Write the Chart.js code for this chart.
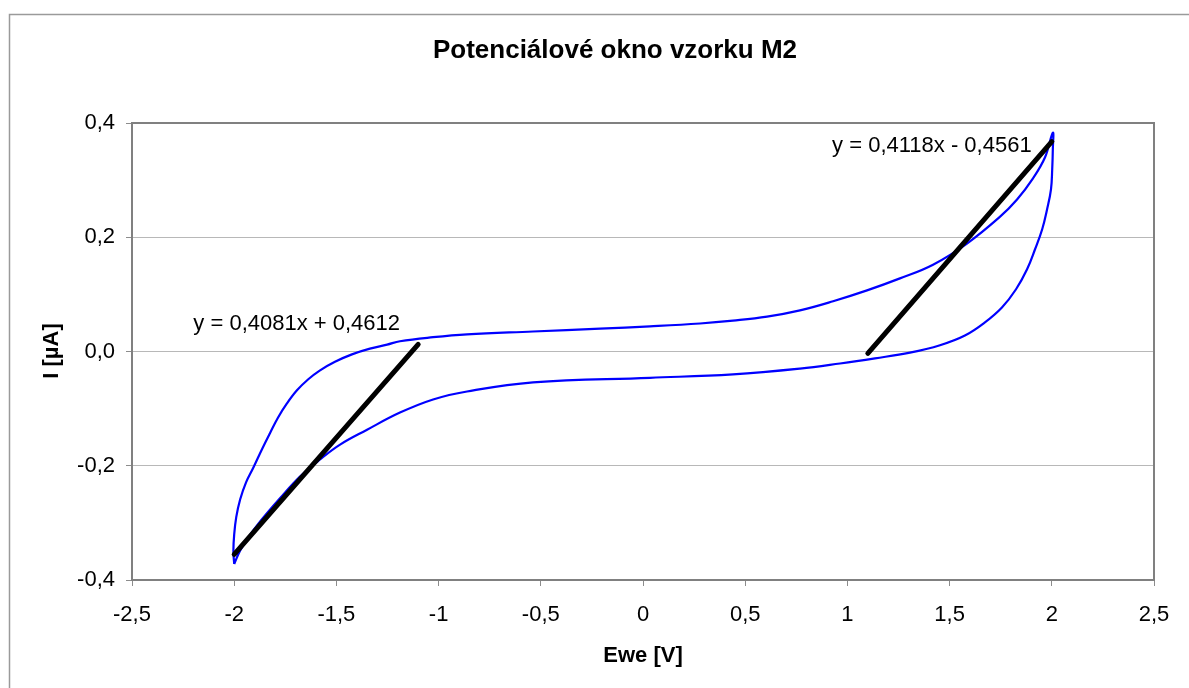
<!DOCTYPE html>
<html>
<head>
<meta charset="utf-8">
<script src="https://cdn.jsdelivr.net/npm/chart.js@4.4.1/dist/chart.umd.min.js"></script>
<style>
  html, body { margin: 0; padding: 0; background: #ffffff; }
  #wrap { width: 1189px; height: 688px; position: relative; }
</style>
</head>
<body>
<div id="wrap"><canvas id="c" width="1189" height="688"></canvas></div>
<script>
// ---- data ----
const chartTitle = "Potenciálové okno vzorku M2";
const xAxisTitle = "Ewe [V]";
const yAxisTitle = "I [µA]";

// forward scan (upper branch), from -2 V to +2 V
const upperX = [-2.000, -2.004, -2.000, -1.990, -1.971, -1.942, -1.906, -1.864, -1.825, -1.786, -1.742, -1.693, -1.639, -1.580, -1.507, -1.424, -1.336, -1.252, -1.189, -1.027, -0.861, -0.538, -0.210, 0.034, 0.279, 0.440, 0.607, 0.768, 0.930, 1.096, 1.257, 1.419, 1.585, 1.747, 1.830, 1.908, 1.967, 2.005];
const upperY = [-0.372, -0.349, -0.320, -0.290, -0.259, -0.229, -0.203, -0.171, -0.143, -0.116, -0.091, -0.068, -0.049, -0.033, -0.018, -0.005, 0.005, 0.012, 0.018, 0.025, 0.030, 0.035, 0.040, 0.044, 0.049, 0.054, 0.061, 0.072, 0.088, 0.107, 0.128, 0.152, 0.189, 0.236, 0.266, 0.303, 0.340, 0.383];

// reverse scan (lower branch), from +2 V back to -2 V
const lowerX = [2.005, 2.005, 2.002, 1.996, 1.977, 1.953, 1.918, 1.879, 1.825, 1.756, 1.673, 1.575, 1.453, 1.306, 1.135, 0.964, 0.768, 0.440, 0.034, -0.538, -0.861, -1.027, -1.189, -1.350, -1.482, -1.580, -1.678, -1.776, -1.874, -1.932, -1.972, -2.000];
const lowerY = [0.383, 0.354, 0.319, 0.284, 0.249, 0.214, 0.179, 0.144, 0.109, 0.077, 0.051, 0.028, 0.011, -0.002, -0.012, -0.021, -0.030, -0.040, -0.046, -0.054, -0.070, -0.084, -0.107, -0.137, -0.163, -0.189, -0.219, -0.257, -0.298, -0.326, -0.349, -0.372];

// linear trendlines (end points)
const trendLeftX = [-2.0, -1.1];
const trendLeftY = [-0.3550, 0.0123];
const trendRightX = [1.1, 2.0];
const trendRightY = [-0.0031, 0.3675];
const trendLeftLabel = "y = 0,4081x + 0,4612";
const trendRightLabel = "y = 0,4118x - 0,4561";

// axis tick settings
const xMin = -2.5, xMax = 2.5, xStep = 0.5;
const yMin = -0.4, yMax = 0.4, yStep = 0.2;

// ---- build ----
const loopPts = upperX.map((x, i) => ({x: x, y: upperY[i]}))
  .concat(lowerX.slice(1).map((x, i) => ({x: x, y: lowerY[i + 1]})));
const tl = trendLeftX.map((x, i) => ({x: x, y: trendLeftY[i]}));
const tr = trendRightX.map((x, i) => ({x: x, y: trendRightY[i]}));

const FONT = "'Liberation Sans', Arial, sans-serif";
Chart.defaults.font.family = FONT;
Chart.defaults.color = '#000000';

function fmt(v, dec) {
  let s = (Math.round(v * 1000) / 1000).toString();
  if (dec) s = v.toFixed(dec);
  if (s === '-0' || s === '-0.0') s = s.replace('-', '');
  return s.replace('.', ',');
}

const decorPlugin = {
  id: 'decor',
  beforeDraw(chart) {
    const ctx = chart.ctx;
    ctx.save();
    ctx.fillStyle = '#ffffff';
    ctx.fillRect(0, 0, chart.width, chart.height);
    // outer chart-area frame
    ctx.strokeStyle = '#9a9a9a';
    ctx.lineWidth = 1.5;
    ctx.beginPath();
    ctx.moveTo(9.5, 700);
    ctx.lineTo(9.5, 14.5);
    ctx.lineTo(1200, 14.5);
    ctx.stroke();
    // title
    ctx.fillStyle = '#000';
    ctx.font = "bold 26px " + FONT;
    ctx.textAlign = 'center';
    ctx.textBaseline = 'middle';
    ctx.fillText(chartTitle, 615, 51);
    // axis titles
    ctx.font = "bold 22px " + FONT;
    ctx.fillText(xAxisTitle, 643, 656);
    ctx.save();
    ctx.translate(52, 351);
    ctx.rotate(-Math.PI / 2);
    ctx.fillText(yAxisTitle, 0, 0);
    ctx.restore();
    ctx.restore();
  },
  beforeDatasetsDraw(chart) {
    const ctx = chart.ctx;
    const a = chart.chartArea;
    ctx.save();
    ctx.strokeStyle = '#808080';
    ctx.lineWidth = 2;
    ctx.strokeRect(a.left, a.top, a.right - a.left, a.bottom - a.top);
    ctx.restore();
  },
  afterDatasetsDraw(chart) {
    const ctx = chart.ctx;
    const xs = chart.scales.x, ys = chart.scales.y;
    ctx.save();
    ctx.fillStyle = '#000';
    ctx.font = "22px " + FONT;
    ctx.textAlign = 'left';
    ctx.textBaseline = 'alphabetic';
    ctx.fillText(trendLeftLabel, xs.getPixelForValue(-2.2), ys.getPixelForValue(0.0385));
    ctx.fillText(trendRightLabel, xs.getPixelForValue(0.925), ys.getPixelForValue(0.350));
    ctx.restore();
  }
};

new Chart(document.getElementById('c'), {
  type: 'scatter',
  data: {
    datasets: [
      {
        label: 'CV',
        data: loopPts,
        showLine: true,
        borderColor: '#0000ff',
        borderWidth: 2.2,
        pointRadius: 0,
        tension: 0.4,
        fill: false,
        order: 2
      },
      {
        label: 'trend left',
        data: tl,
        showLine: true,
        borderColor: '#000000',
        borderWidth: 5,
        borderCapStyle: 'round',
        pointRadius: 0,
        order: 1
      },
      {
        label: 'trend right',
        data: tr,
        showLine: true,
        borderColor: '#000000',
        borderWidth: 5,
        borderCapStyle: 'round',
        pointRadius: 0,
        order: 1
      }
    ]
  },
  options: {
    responsive: false,
    animation: false,
    devicePixelRatio: 1,
    layout: { padding: { top: 123, right: 35, bottom: 0, left: 0 } },
    plugins: {
      legend: { display: false },
      title: { display: false },
      tooltip: { enabled: false }
    },
    scales: {
      x: {
        type: 'linear',
        min: xMin, max: xMax,
        afterFit(s) { s.height = 108; },
        border: { display: false },
        grid: { drawOnChartArea: false, drawTicks: true, tickLength: 6, tickColor: '#8c8c8c', lineWidth: 1 },
        ticks: {
          stepSize: xStep,
          padding: 16,
          font: { size: 22 },
          color: '#000',
          maxRotation: 0,
          callback: (v) => fmt(v)
        }
      },
      y: {
        type: 'linear',
        min: yMin, max: yMax,
        afterFit(s) { s.width = 132; },
        border: { display: false },
        grid: { drawOnChartArea: true, color: '#b8b8b8', lineWidth: 1, drawTicks: true, tickLength: 6, tickColor: '#8c8c8c' },
        ticks: {
          stepSize: yStep,
          padding: 11,
          font: { size: 22 },
          color: '#000',
          callback: (v) => fmt(v, 1)
        }
      }
    }
  },
  plugins: [decorPlugin]
});
</script>
</body>
</html>
